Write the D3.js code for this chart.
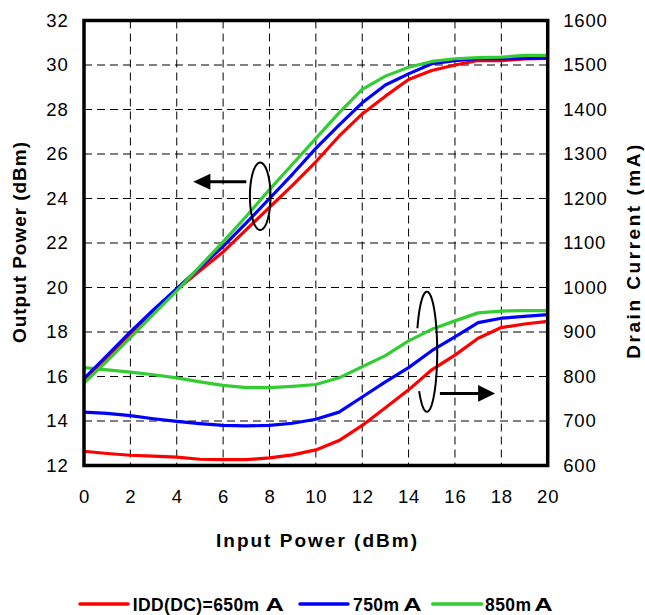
<!DOCTYPE html>
<html><head><meta charset="utf-8">
<script src="https://cdn.jsdelivr.net/npm/d3@7"></script>
<style>body{margin:0;background:#fff}svg{display:block}text{font-family:"Liberation Sans",Arial,sans-serif}</style>
</head><body>
<svg id="c" width="645" height="615"></svg>
<script>
const inputPower = [0,1,2,3,4,5,6,7,8,9,10,11,12,13,14,15,16,17,18,19,20];
const seriesNames = ["IDD(DC)=650m","750m","850m"];
const unitSuffix = "A";
const seriesColors = ["#ff0000","#0000ff","#33cc33"];
const pout650 = [15.8,16.85,17.9,18.9,19.9,20.75,21.6,22.6,23.6,24.6,25.65,26.8,27.8,28.6,29.35,29.75,30.0,30.2,30.2,30.27,30.3];
const pout750 = [15.9,16.95,18.0,19.0,19.95,20.9,21.85,22.9,24.0,25.1,26.25,27.3,28.3,29.1,29.6,30.06,30.2,30.28,30.28,30.3,30.31];
const pout850 = [15.7,16.7,17.75,18.8,19.85,20.95,22.05,23.2,24.4,25.55,26.7,27.85,28.9,29.5,29.9,30.16,30.28,30.33,30.35,30.43,30.43];
const idd650 = [632,627,623,621,619,614,613,613,617,624,635,656,690,730,770,815,848,886,910,918,924];
const idd750 = [720,717,712,705,699,694,690,689,690,695,704,720,754,788,820,858,889,921,931,935,939];
const idd850 = [820,815,810,804,797,788,780,775,775,778,782,797,822,847,880,906,925,943,947,948,948];
const xTicks = [0,2,4,6,8,10,12,14,16,18,20];
const yLeftTicks = [12,14,16,18,20,22,24,26,28,30,32];
const yRightTicks = [600,700,800,900,1000,1100,1200,1300,1400,1500,1600];

const svg = d3.select("#c");
const x = d3.scaleLinear().domain([0,20]).range([84,547.7]);
const yL = d3.scaleLinear().domain([12,32]).range([465.5,20.5]);
const yR = d3.scaleLinear().domain([600,1600]).range([465.5,20.5]);

// grid
const g = svg.append("g");
g.selectAll(".vg").data(xTicks.slice(1,-1)).join("line")
  .attr("x1",d=>x(d)).attr("x2",d=>x(d)).attr("y1",yL(32)).attr("y2",yL(12))
  .attr("stroke","#000").attr("stroke-width",1).attr("stroke-dasharray","8,5");
g.selectAll(".hg").data(yLeftTicks.slice(1,-1)).join("line")
  .attr("x1",x(0)).attr("x2",x(20)).attr("y1",d=>yL(d)).attr("y2",d=>yL(d))
  .attr("stroke","#000").attr("stroke-width",1).attr("stroke-dasharray","8,5");

// axes
const fs = "18.5px";
const axL = svg.append("g").attr("transform",`translate(${x(0)},0)`)
  .call(d3.axisLeft(yL).tickValues(yLeftTicks).tickSize(0).tickPadding(15.5).tickFormat(d3.format("d")));
const axR = svg.append("g").attr("transform",`translate(${x(20)},0)`)
  .call(d3.axisRight(yR).tickValues(yRightTicks).tickSize(0).tickPadding(15.5).tickFormat(d3.format("d")));
const axB = svg.append("g").attr("transform",`translate(0,${yL(12)})`)
  .call(d3.axisBottom(x).tickValues(xTicks).tickSize(0).tickPadding(23).tickFormat(d3.format("d")));
[axL,axR,axB].forEach(a=>{
  a.select(".domain").remove();
  a.selectAll("text").attr("font-size",fs).attr("fill","#000")
   .attr("font-family","Liberation Sans, Arial, sans-serif").attr("letter-spacing","0.8px");
});
axB.selectAll("text").attr("dy",null).attr("y",37.2);

// lines
const series = [
  {p:pout650,i:idd650,c:seriesColors[0]},
  {p:pout750,i:idd750,c:seriesColors[1]},
  {p:pout850,i:idd850,c:seriesColors[2]}
];
const lineL = d3.line().x((d,k)=>x(inputPower[k])).y(d=>yL(d));
const lineR = d3.line().x((d,k)=>x(inputPower[k])).y(d=>yR(d));
series.forEach(s=>{
  svg.append("path").attr("d",lineR(s.i)).attr("fill","none").attr("stroke",s.c).attr("stroke-width",3.2).attr("stroke-linejoin","round");
});
series.forEach(s=>{
  svg.append("path").attr("d",lineL(s.p)).attr("fill","none").attr("stroke",s.c).attr("stroke-width",3.2).attr("stroke-linejoin","round");
});

// frame
svg.append("rect").attr("x",x(0)).attr("y",yL(32)).attr("width",x(20)-x(0)).attr("height",yL(12)-yL(32))
  .attr("fill","none").attr("stroke","#000").attr("stroke-width",3.5);

// annotations: ellipses and arrows
function ellipsePath(cx,cy,rx,ry,a0,a1){
  const pts = d3.range(a0,a1+0.5,2).map(a=>{const t=a*Math.PI/180;return [cx+rx*Math.cos(t),cy+ry*Math.sin(t)];});
  return d3.line()(pts);
}
svg.append("path").attr("d",ellipsePath(x(7.6),yL(24.1),10.3,33.7,0,360))
  .attr("fill","none").attr("stroke","#000").attr("stroke-width",2);
svg.append("line").attr("x1",x(7.0)).attr("x2",x(5.2)).attr("y1",yL(24.75)).attr("y2",yL(24.75))
  .attr("stroke","#000").attr("stroke-width",3);
svg.append("path").attr("d",`M${x(4.71)},${yL(24.75)} L${x(5.45)},${yL(24.75)-8} L${x(5.45)},${yL(24.75)+8} Z`).attr("fill","#000");
svg.append("path").attr("d",ellipsePath(x(14.79),yR(855.7),10.3,60,203,500))
  .attr("fill","none").attr("stroke","#000").attr("stroke-width",2);
svg.append("line").attr("x1",x(15.35)).attr("x2",x(17.1)).attr("y1",yR(762)).attr("y2",yR(762))
  .attr("stroke","#000").attr("stroke-width",3);
svg.append("path").attr("d",`M${x(17.73)},${yR(762)} L${x(17.0)},${yR(762)-8.3} L${x(17.0)},${yR(762)+8.3} Z`).attr("fill","#000");

// axis titles
svg.append("text").attr("x",316.5).attr("y",546.5).attr("text-anchor","middle")
  .attr("font-size","19px").attr("font-weight","bold").attr("textLength",201).attr("lengthAdjust","spacing")
  .text("Input Power (dBm)");
svg.append("text").attr("transform","translate(25.5,242.5) rotate(-90)").attr("text-anchor","middle")
  .attr("font-size","19px").attr("font-weight","bold").attr("textLength",201).attr("lengthAdjust","spacing")
  .text("Output Power (dBm)");
svg.append("text").attr("transform","translate(640,251.7) rotate(-90)").attr("text-anchor","middle")
  .attr("font-size","19px").attr("font-weight","bold").attr("textLength",214).attr("lengthAdjust","spacing")
  .text("Drain Current (mA)");

// legend
const legItems = [
  {x1:80,x2:128,tx:132.7,dx:6},
  {x1:300,x2:348,tx:353,dx:4},
  {x1:432.7,x2:481.7,tx:485,dx:3}
];
legItems.forEach((l,k)=>{
  svg.append("line").attr("x1",l.x1).attr("x2",l.x2).attr("y1",604).attr("y2",604)
    .attr("stroke",seriesColors[k]).attr("stroke-width",3.5).attr("stroke-linecap","round");
  const t = svg.append("text").attr("x",l.tx).attr("y",610.5).attr("font-size","17.5px").attr("font-weight","bold")
    .attr("letter-spacing","0.4px");
  t.append("tspan").text(seriesNames[k]);
  t.append("tspan").attr("dx",l.dx).attr("textLength",19).attr("lengthAdjust","spacingAndGlyphs").text(unitSuffix);
});
</script>
</body></html>
